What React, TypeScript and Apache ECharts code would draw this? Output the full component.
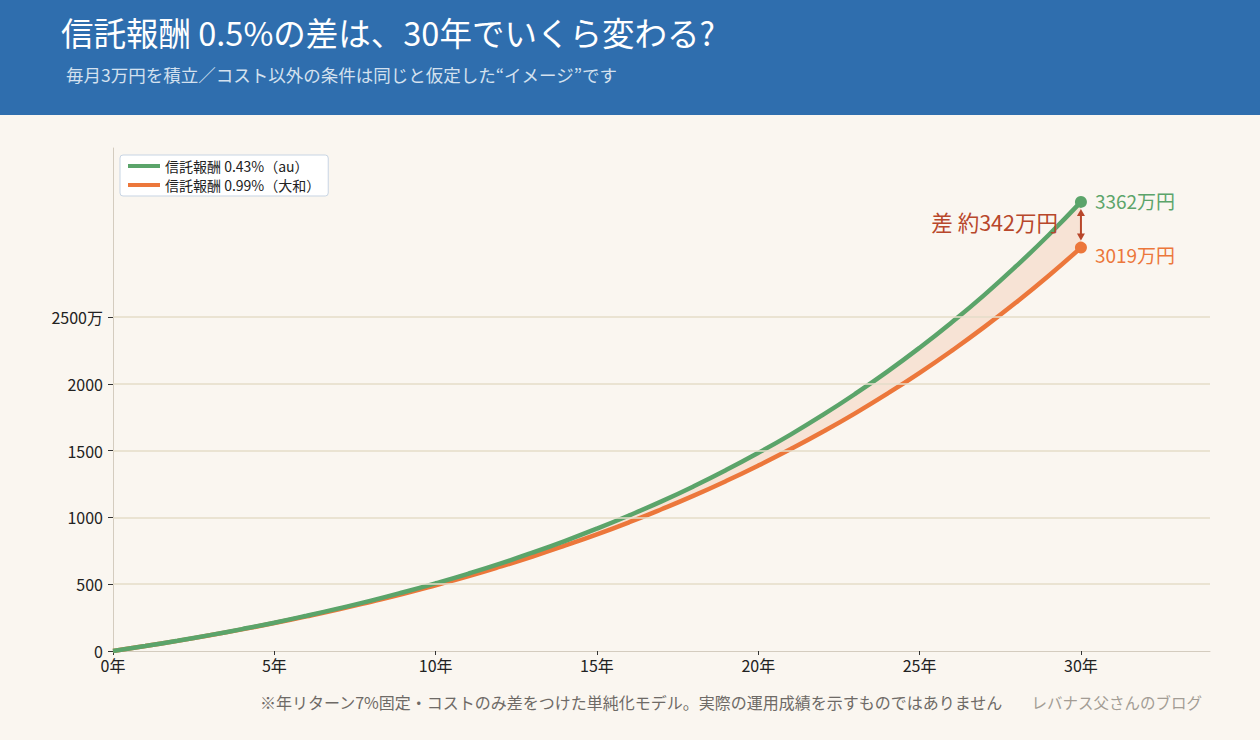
import React, { useEffect, useRef } from "react";
import * as echarts from "echarts";

// Years 0..30
const years: number[] = Array.from({ length: 31 }, (_, i) => i);

// Accumulated value (万円) for monthly 3万円 contributions
const lowFeeValues: number[] = [
  0, 37, 77, 119, 164, 212, 264, 319, 377, 440, 507, 578, 654, 736, 823, 916,
  1015, 1120, 1233, 1354, 1483, 1620, 1767, 1924, 2091, 2270, 2461, 2664, 2882,
  3114, 3361.6,
];
const highFeeValues: number[] = [
  0, 37, 76, 118, 162, 209, 259, 312, 369, 428, 492, 559, 631, 707, 788, 873,
  964, 1061, 1163, 1272, 1388, 1511, 1641, 1779, 1926, 2082, 2248, 2424, 2611,
  2809, 3019.4,
];

const lowFeeName = "信託報酬 0.43%（au）";
const highFeeName = "信託報酬 0.99%（大和）";

const yTicks: number[] = [0, 500, 1000, 1500, 2000, 2500];
const xTicks: number[] = [0, 5, 10, 15, 20, 25, 30];

const titleText = "信託報酬 0.5%の差は、30年でいくら変わる?";
const subtitleText = "毎月3万円を積立／コスト以外の条件は同じと仮定した“イメージ”です";
const noteText =
  "※年リターン7%固定・コストのみ差をつけた単純化モデル。実際の運用成績を示すものではありません";
const creditText = "レバナス父さんのブログ";

const GREEN = "#5BA46A";
const ORANGE = "#EC773B";
const BAND = "rgba(236,119,59,0.15)";
const ARROW = "#B8472B";
const FONT = "'Noto Sans CJK JP', 'Noto Sans', sans-serif";

export default function App() {
  const ref = useRef<HTMLDivElement>(null);

  useEffect(() => {
    document.body.style.margin = "0";
    const chart = echarts.init(ref.current!, undefined, { renderer: "svg" });

    const last = years.length - 1;
    const endYear = years[last];
    const topVal = lowFeeValues[last];
    const botVal = highFeeValues[last];
    const diff = Math.round(topVal - botVal);

    const option: echarts.EChartsOption = {
      animation: false,
      backgroundColor: "#FAF6F0",
      textStyle: { fontFamily: FONT },
      graphic: [
        {
          type: "rect",
          left: 0,
          top: 0,
          shape: { width: 1260, height: 115 },
          style: { fill: "#2F6EAE" },
          z: -1,
        },
        {
          type: "text",
          left: 61,
          top: 15,
          style: {
            text: titleText,
            fill: "#FFFFFF",
            font: `32.5px ${FONT}`,
          },
        },
        {
          type: "text",
          left: 66,
          top: 66,
          style: {
            text: subtitleText,
            fill: "#D4E1EF",
            font: `17.5px ${FONT}`,
          },
        },
        {
          type: "text",
          left: 260,
          top: 694,
          style: {
            text: noteText,
            fill: "#6E6A66",
            font: `16px ${FONT}`,
          },
        },
        {
          type: "text",
          right: 58,
          top: 694,
          style: {
            text: creditText,
            fill: "#A39D95",
            font: `15.5px ${FONT}`,
          },
        },
      ],
      legend: {
        left: 120,
        top: 155,
        orient: "vertical",
        data: [lowFeeName, highFeeName],
        backgroundColor: "#FFFFFF",
        borderColor: "#C8D5E4",
        borderWidth: 1,
        borderRadius: 3,
        padding: [4, 8],
        itemGap: 5,
        itemWidth: 32,
        itemHeight: 4,
        icon: "rect",
        textStyle: { fontSize: 14, color: "#222", fontFamily: FONT },
      },
      grid: { left: 113, right: 50, top: 148, bottom: 89 },
      xAxis: {
        type: "value",
        min: 0,
        max: 34,
        interval: 5,
        axisLine: { lineStyle: { color: "#D4CCBF", width: 1 } },
        axisTick: {
          show: true,
          length: 4,
          lineStyle: { color: "#333" },
          customValues: xTicks,
        },
        axisLabel: {
          customValues: xTicks,
          formatter: (v: number) => (v <= 30 ? `${v}年` : ""),
          fontSize: 16,
          color: "#222",
          margin: 6,
        },
        splitLine: { show: false },
      },
      yAxis: {
        type: "value",
        min: 0,
        max: 3765,
        interval: 500,
        axisLine: { show: true, lineStyle: { color: "#D4CCBF", width: 1 } },
        axisTick: {
          show: true,
          length: 5,
          lineStyle: { color: "#333" },
          customValues: yTicks,
        },
        axisLabel: {
          customValues: yTicks,
          formatter: (v: number) =>
            v > 2500 ? "" : v === 2500 ? `${v}万` : `${v}`,
          fontSize: 16,
          color: "#222",
          margin: 10,
        },
        splitLine: { show: false },
      },
      series: [
        {
          name: "gridlines",
          type: "line",
          data: [],
          silent: true,
          z: 1,
          markLine: {
            silent: true,
            symbol: "none",
            label: { show: false },
            lineStyle: { color: "#E4DCC9", width: 1.5, type: "solid" },
            data: yTicks.filter((v) => v > 0).map((v) => ({ yAxis: v })),
          },
        },
        {
          name: "band",
          type: "custom",
          silent: true,
          z: 2,
          data: [[0]],
          renderItem: (params: any, api: any) => {
            const upper = years.map((y, i) => api.coord([y, lowFeeValues[i]]));
            const lower = years
              .map((y, i) => api.coord([y, highFeeValues[i]]))
              .reverse();
            return {
              type: "polygon",
              shape: { points: upper.concat(lower) },
              style: { fill: BAND },
            };
          },
        },
        {
          name: highFeeName,
          type: "line",
          data: years.map((y, i) => [y, highFeeValues[i]]),
          smooth: true,
          symbol: "none",
          color: ORANGE,
          lineStyle: { color: ORANGE, width: 4.5 },
          z: 3,
        },
        {
          name: lowFeeName,
          type: "line",
          data: years.map((y, i) => [y, lowFeeValues[i]]),
          smooth: true,
          symbol: "none",
          color: GREEN,
          lineStyle: { color: GREEN, width: 4.5 },
          z: 4,
        },
        {
          name: "endpoints",
          type: "scatter",
          symbolSize: 12,
          z: 6,
          data: [
            {
              value: [endYear, topVal],
              itemStyle: { color: GREEN, opacity: 1 },
              label: {
                show: true,
                position: "right",
                distance: 8,
                offset: [0, -1],
                color: GREEN,
                fontSize: 19,
                formatter: () => `${Math.round(topVal)}万円`,
              },
            },
            {
              value: [endYear, botVal],
              itemStyle: { color: ORANGE, opacity: 1 },
              label: {
                show: true,
                position: "right",
                distance: 8,
                offset: [0, 7],
                color: ORANGE,
                fontSize: 19,
                formatter: () => `${Math.round(botVal)}万円`,
              },
            },
          ],
        },
        {
          name: "gap",
          type: "custom",
          z: 5,
          silent: true,
          data: [[endYear, topVal, botVal]],
          renderItem: (params: any, api: any) => {
            const p1 = api.coord([api.value(0), api.value(1)]);
            const p2 = api.coord([api.value(0), api.value(2)]);
            const x = p1[0];
            const y1 = p1[1] + 7;
            const y2 = p2[1] - 7;
            const h = 7;
            const w = 4;
            return {
              type: "group",
              children: [
                {
                  type: "line",
                  shape: { x1: x, y1: y1 + 3, x2: x, y2: y2 - 3 },
                  style: { stroke: ARROW, lineWidth: 2 },
                },
                {
                  type: "polygon",
                  shape: {
                    points: [
                      [x, y1],
                      [x - w, y1 + h],
                      [x + w, y1 + h],
                    ],
                  },
                  style: { fill: ARROW },
                },
                {
                  type: "polygon",
                  shape: {
                    points: [
                      [x, y2],
                      [x - w, y2 - h],
                      [x + w, y2 - h],
                    ],
                  },
                  style: { fill: ARROW },
                },
                {
                  type: "text",
                  x: x - 23,
                  y: (p1[1] + p2[1]) / 2 - 3,
                  style: {
                    text: `差 約${diff}万円`,
                    fill: ARROW,
                    font: `21.5px ${FONT}`,
                    align: "right",
                    verticalAlign: "middle",
                  },
                },
              ],
            };
          },
        },
      ],
    };

    chart.setOption(option);
    return () => chart.dispose();
  }, []);

  return <div ref={ref} style={{ width: 1260, height: 740 }} />;
}
